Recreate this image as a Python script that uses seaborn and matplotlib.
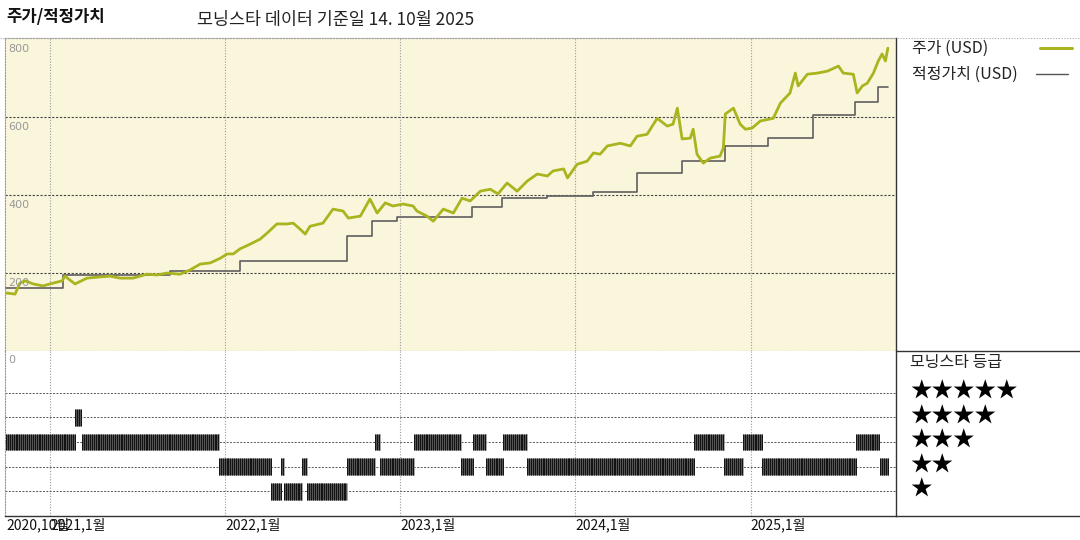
import numpy as np
import pandas as pd
import matplotlib
matplotlib.use('Agg')
import matplotlib.pyplot as plt
import matplotlib.dates as mdates
import matplotlib.transforms as mtransforms
from matplotlib.lines import Line2D
import seaborn as sns

# ---------------- data ----------------
price_dates = [
    '2020-10-01', '2020-10-20', '2020-10-30', '2020-11-10', '2020-11-27', '2020-12-17',
    '2021-01-07', '2021-01-26', '2021-02-01', '2021-02-22', '2021-03-19', '2021-04-15',
    '2021-05-06', '2021-05-27', '2021-06-23', '2021-07-22', '2021-08-12', '2021-09-02',
    '2021-09-29', '2021-10-20', '2021-11-10', '2021-12-01', '2021-12-22', '2022-01-05',
    '2022-01-18', '2022-02-01', '2022-02-22', '2022-03-15', '2022-03-30', '2022-04-19',
    '2022-05-10', '2022-05-23', '2022-06-06', '2022-06-17', '2022-06-27', '2022-07-24',
    '2022-08-14', '2022-09-04', '2022-09-15', '2022-10-10', '2022-10-30', '2022-11-14',
    '2022-12-01', '2022-12-17', '2023-01-07', '2023-01-28', '2023-02-05', '2023-02-26',
    '2023-03-11', '2023-04-01', '2023-04-22', '2023-05-10', '2023-05-27', '2023-06-17',
    '2023-07-08', '2023-07-24', '2023-08-12', '2023-09-02', '2023-09-23', '2023-10-14',
    '2023-11-04', '2023-11-16', '2023-12-08', '2023-12-16', '2024-01-05', '2024-01-26',
    '2024-02-08', '2024-02-22', '2024-03-08', '2024-04-04', '2024-04-25', '2024-05-09',
    '2024-05-30', '2024-06-20', '2024-07-11', '2024-07-23', '2024-08-01', '2024-08-11',
    '2024-08-28', '2024-09-03', '2024-09-11', '2024-09-24', '2024-10-09', '2024-10-29',
    '2024-11-05', '2024-11-09', '2024-11-26', '2024-12-10', '2024-12-21', '2025-01-04',
    '2025-01-21', '2025-02-17', '2025-03-04', '2025-03-24', '2025-04-04', '2025-04-10',
    '2025-04-29', '2025-05-20', '2025-06-10', '2025-07-03', '2025-07-13', '2025-08-03',
    '2025-08-11', '2025-08-22', '2025-09-01', '2025-09-14', '2025-09-24', '2025-10-02',
    '2025-10-09', '2025-10-14',
]
price_values = [
    149, 146, 174, 180, 172, 167,
    174, 180, 192, 172, 187, 190,
    192, 187, 187, 197, 195, 200,
    197, 208, 223, 226, 238, 249,
    249, 262, 274, 287, 303, 326,
    326, 328, 313, 300, 320, 328,
    364, 359, 341, 346, 390, 354,
    380, 372, 377, 372, 359, 346,
    333, 364, 354, 392, 385, 410,
    415, 403, 431, 410, 436, 454,
    449, 462, 467, 444, 479, 487,
    508, 505, 526, 533, 526, 551,
    556, 597, 577, 582, 623, 544,
    546, 569, 505, 482, 495, 500,
    521, 608, 623, 582, 569, 572,
    590, 597, 636, 662, 713, 680,
    710, 713, 718, 731, 713, 710,
    662, 680, 687, 713, 744, 762,
    744, 777,
]

fair_dates = [
    '2020-10-01', '2021-01-28', '2021-09-08', '2022-02-01', '2022-09-12', '2022-11-04',
    '2022-12-26', '2023-05-31', '2023-08-02', '2023-11-04', '2024-02-08', '2024-05-09',
    '2024-08-11', '2024-11-09', '2025-02-07', '2025-05-11', '2025-08-07', '2025-09-24',
    '2025-10-14',
]
fair_values = [
    162, 195, 205, 231, 295, 333,
    344, 369, 392, 397, 408, 456,
    487, 526, 546, 605, 638, 677,
    677,
]

rating_starts = [
    '2020-10-01', '2021-02-22', '2021-03-09', '2021-12-19', '2022-04-07', '2022-04-28',
    '2022-05-04', '2022-06-11', '2022-06-21', '2022-09-12', '2022-11-10', '2022-11-20',
    '2023-01-30', '2023-05-08', '2023-06-02', '2023-06-29', '2023-08-04', '2023-09-23',
    '2024-09-05', '2024-11-07', '2024-12-16', '2025-01-25', '2025-08-09', '2025-09-28',
]
rating_ends = [
    '2021-02-22', '2021-03-07', '2021-12-19', '2022-04-07', '2022-04-28', '2022-05-04',
    '2022-06-11', '2022-06-21', '2022-09-12', '2022-11-10', '2022-11-20', '2023-01-30',
    '2023-05-08', '2023-06-02', '2023-06-29', '2023-08-04', '2023-09-23', '2024-09-05',
    '2024-11-07', '2024-12-16', '2025-01-25', '2025-08-09', '2025-09-26', '2025-10-14',
]
rating_values = [
    3, 4, 3, 2, 1, 2,
    1, 2, 1, 2, 3, 2,
    3, 2, 3, 2, 3, 2,
    3, 2, 3, 2, 3, 2,
]

x_tick_dates = ['2020-10-01', '2021-01-01', '2022-01-01', '2023-01-01', '2024-01-01', '2025-01-01']
x_tick_labels = ['2020,10월', '2021,1월', '2022,1월', '2023,1월', '2024,1월', '2025,1월']
y_tick_values = [200, 400, 600, 800]
y_tick_labels = ['200', '400', '600', '800']
star_labels = ['★★★★★', '★★★★', '★★★', '★★', '★']

title_text = '주가/적정가치'
subtitle_text = '모닝스타 데이터 기준일 14. 10월 2025'
legend_price = '주가 (USD)'
legend_fair = '적정가치 (USD)'
rating_title = '모닝스타 등급'

# ---------------- style ----------------
sns.set_theme(style='white')
plt.rcParams['font.family'] = ['Noto Sans CJK KR', 'DejaVu Sans']

GREEN = '#a9b41e'
FAIR = '#5e5e5e'
BG = '#faf6dc'

W, H = 1080, 540
def fx(px):
    return px / W
def fy(py):
    return 1 - py / H

fig = plt.figure(figsize=(10.8, 5.4), dpi=100)
L, R = 5, 896
TOP, MID, BOT = 38, 351, 516
ax1 = fig.add_axes([fx(L), fy(MID), (R - L) / W, (MID - TOP) / H])
ax2 = fig.add_axes([fx(L), fy(BOT), (R - L) / W, (BOT - MID) / H], sharex=ax1)

price_df = pd.DataFrame({'date': pd.to_datetime(price_dates), 'value': price_values})
fair_df = pd.DataFrame({'date': pd.to_datetime(fair_dates), 'value': fair_values})

ax1.set_facecolor(BG)
sns.lineplot(data=fair_df, x='date', y='value', ax=ax1, color=FAIR, lw=1.2,
             drawstyle='steps-post', zorder=3)
sns.lineplot(data=price_df, x='date', y='value', ax=ax1, color=GREEN, lw=2.0, zorder=4)

xmin, xmax = pd.Timestamp('2020-09-29'), pd.Timestamp('2025-10-31')
ax1.set_xlim(xmin, xmax)
ax1.set_ylim(0, 803)
ax1.set_xlabel('')
ax1.set_ylabel('')
ax1.set_yticks([])
ax1.tick_params(labelbottom=False, length=0)

for d in x_tick_dates[1:]:
    for ax in (ax1, ax2):
        ax.axvline(pd.Timestamp(d), color='#9a9a9a', lw=0.8, ls=(0, (1, 1.5)), zorder=1)
for v in y_tick_values[:-1]:
    ax1.axhline(v, color='#444444', lw=0.8, ls=(0, (2, 1.5)), zorder=1)

off = mtransforms.offset_copy(ax1.get_yaxis_transform(), fig=fig, x=3, y=-5, units='dots')
for v, lab in zip(y_tick_values, y_tick_labels):
    ax1.text(0, v, lab, transform=off, ha='left', va='top', fontsize=8, color='#999999',
             family=['DejaVu Sans'], zorder=5)

for name, sp in ax1.spines.items():
    sp.set_visible(True)
    if name == 'right':
        sp.set_color('#333333'); sp.set_linewidth(1.0)
    else:
        sp.set_color('#999999'); sp.set_linewidth(0.8); sp.set_linestyle((0, (1, 1.5)))

# ---------------- rating panel ----------------
ax2.set_facecolor('white')
ax2.set_ylim(0, 6.7)
for r in range(1, 6):
    ax2.axhline(r, color='#555555', lw=0.7, ls=(0, (2, 1.5)), zorder=1)
half = 0.34
for s, e, r in zip(rating_starts, rating_ends, rating_values):
    s0, e0 = mdates.date2num(pd.Timestamp(s)), mdates.date2num(pd.Timestamp(e))
    ax2.broken_barh([(s0, e0 - s0)], (r - half, 2 * half), facecolors='#555555',
                    edgecolors='#aaaaaa', linewidth=0.5, zorder=2)
    ticks = pd.date_range(s, e, freq='4D')
    ax2.vlines(ticks, r - half, r + half, color='#111111', lw=0.7, zorder=3)

ax2.set_yticks([])
ax2.set_xticks(pd.to_datetime(x_tick_dates))
ax2.set_xticklabels(x_tick_labels)
ax2.tick_params(axis='x', length=0, pad=1, labelsize=10, labelcolor='#111111')
for lbl in ax2.get_xticklabels():
    lbl.set_horizontalalignment('left')
ax2.set_xlim(xmin, xmax)
ax2.text(0, 1, '0', transform=mtransforms.offset_copy(ax2.transAxes, fig=fig, x=3, y=-4, units='dots'),
         ha='left', va='top', fontsize=8, color='#999999', family=['DejaVu Sans'])
for name, sp in ax2.spines.items():
    sp.set_visible(True)
    if name in ('right', 'bottom'):
        sp.set_color('#333333'); sp.set_linewidth(1.0)
    elif name == 'top':
        sp.set_visible(False)
    else:
        sp.set_color('#999999'); sp.set_linewidth(0.8); sp.set_linestyle((0, (1, 1.5)))

# ---------------- frame lines ----------------
fig.add_artist(Line2D([0, 1], [fy(TOP), fy(TOP)], color='#aaaaaa', lw=0.8,
                      ls=(0, (1, 1.5)), transform=fig.transFigure))
fig.add_artist(Line2D([fx(R), 1], [fy(MID), fy(MID)], color='#333333', lw=1.0,
                      transform=fig.transFigure))
fig.add_artist(Line2D([fx(R), 1], [fy(BOT), fy(BOT)], color='#333333', lw=1.0,
                      transform=fig.transFigure))

# ---------------- texts ----------------
fig.text(fx(6), fy(17), title_text, fontsize=12, fontweight='bold', va='center', ha='left',
         color='#111111')
fig.text(fx(197), fy(20), subtitle_text, fontsize=12.5, va='center', ha='left', color='#222222')

fig.text(fx(912), fy(48), legend_price, fontsize=11.5, va='center', ha='left', color='#222222')
fig.add_artist(Line2D([fx(1040), fx(1072)], [fy(48), fy(48)], color=GREEN, lw=2.2,
                      transform=fig.transFigure))
fig.text(fx(912), fy(74), legend_fair, fontsize=11.5, va='center', ha='left', color='#222222')
fig.add_artist(Line2D([fx(1036), fx(1068)], [fy(74), fy(74)], color='#555555', lw=1.0,
                      transform=fig.transFigure))

fig.text(fx(910), fy(362), rating_title, fontsize=11.5, va='center', ha='left', color='#222222')
for i, lab in enumerate(star_labels):
    fig.text(fx(910), fy(392 + 24.5 * i), lab, fontsize=15.5, va='center', ha='left', color='black')

fig.savefig('out.png', dpi=100, facecolor='white')
